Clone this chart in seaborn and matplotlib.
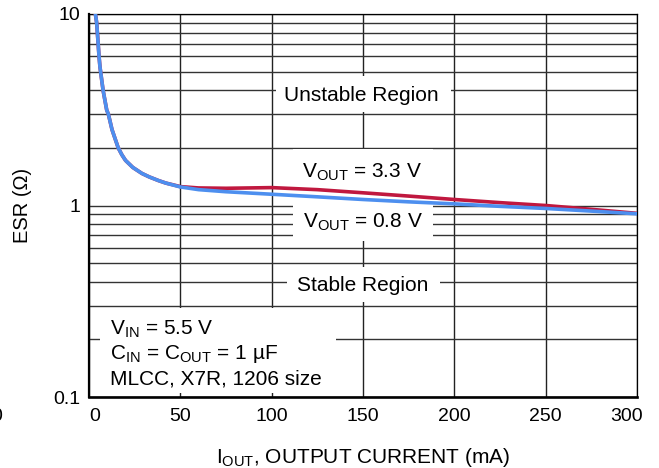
import matplotlib
matplotlib.use("Agg")
import matplotlib.pyplot as plt
from matplotlib.patches import Rectangle
from matplotlib.ticker import LogLocator, NullFormatter, FixedLocator, FixedFormatter
import matplotlib.transforms as mtransforms
import seaborn as sns
import pandas as pd

# ---- data ----
iout_ma = [3.5, 4.2, 5.5, 6.0, 7.7, 9.7, 10.6, 12.6, 16, 18, 20, 24, 29, 33, 38, 42, 50,
           60, 75, 100, 125, 150, 175, 200, 225, 250, 275, 300]
esr_vout_08 = [10.0, 9.0, 6.0, 5.3, 4.0, 3.15, 3.0, 2.49, 2.0, 1.84, 1.72, 1.58, 1.47, 1.41, 1.35, 1.31, 1.25,
               1.21, 1.18, 1.145, 1.11, 1.075, 1.045, 1.02, 0.99, 0.965, 0.935, 0.905]
esr_vout_33 = [10.0, 9.0, 6.0, 5.3, 4.0, 3.15, 3.0, 2.49, 2.0, 1.84, 1.72, 1.58, 1.47, 1.41, 1.35, 1.31, 1.255,
               1.235, 1.23, 1.24, 1.21, 1.165, 1.12, 1.075, 1.035, 1.0, 0.955, 0.91]

x_ticks = [0, 50, 100, 150, 200, 250, 300]
x_tick_labels = ["0", "50", "100", "150", "200", "250", "300"]
y_ticks = [0.1, 1, 10]
y_tick_labels = ["0.1", "1", "10"]

sns.set_theme(style="white")
plt.rcParams["font.family"] = ["Liberation Sans", "DejaVu Sans"]
plt.rcParams["mathtext.fontset"] = "custom"
plt.rcParams["mathtext.rm"] = "Liberation Sans"
plt.rcParams["mathtext.it"] = "Liberation Sans:italic"
plt.rcParams["mathtext.bf"] = "Liberation Sans:bold"

fig = plt.figure(figsize=(6.59, 4.68), dpi=100)
ax = fig.add_axes([89 / 659, 1 - 397 / 468, 548 / 659, 383 / 468])

df = pd.DataFrame({"I": iout_ma, "v08": esr_vout_08, "v33": esr_vout_33})
sns.lineplot(data=df, x="I", y="v33", ax=ax, color="#C0183F", lw=2.6, zorder=3, sort=False)
sns.lineplot(data=df, x="I", y="v08", ax=ax, color="#4D8FEF", lw=2.6, zorder=3.1, sort=False)
for ln in ax.lines:
    ln.set_solid_joinstyle("round")

ax.set_yscale("log")
ax.set_xlim(0, 300)
ax.set_ylim(0.1, 10)
ax.xaxis.set_major_locator(FixedLocator(x_ticks))
ax.xaxis.set_major_formatter(FixedFormatter(x_tick_labels))
ax.yaxis.set_major_locator(FixedLocator(y_ticks))
ax.yaxis.set_major_formatter(FixedFormatter(y_tick_labels))
ax.yaxis.set_minor_locator(LogLocator(base=10, subs=range(2, 10)))
ax.yaxis.set_minor_formatter(NullFormatter())

ax.set_axisbelow(True)
ax.grid(which="major", axis="x", color="#222222", lw=1.0)
ax.grid(which="both", axis="y", color="#333333", lw=1.0)
ax.tick_params(axis="both", which="both", length=0, labelsize=14, colors="black")
ax.tick_params(axis="x", pad=8)
ax.tick_params(axis="y", pad=6)

for side in ["top", "right"]:
    ax.spines[side].set_color("black")
    ax.spines[side].set_linewidth(0.9)
ax.spines["left"].set_color("black")
ax.spines["left"].set_linewidth(1.6)
ax.spines["bottom"].set_color("black")
ax.spines["bottom"].set_linewidth(1.9)

ax.set_xlabel(r"$\mathrm{I_{OUT}}$, OUTPUT CURRENT (mA)", fontsize=15, color="black")
ax.set_ylabel("ESR (Ω)", fontsize=14.5, color="black")
ax.xaxis.set_label_coords(0.5, -0.128)
ax.xaxis.label.set_va("top")
ax.yaxis.set_label_coords(-0.104, 0.5)

# first and last x tick labels shifted inward as in the reference
fig.canvas.draw()
xlabels = ax.get_xticklabels()
xlabels[0].set_ha("left")
xlabels[-1].set_ha("right")
xlabels[-1].set_transform(xlabels[-1].get_transform() +
                          mtransforms.ScaledTranslation(6 / 100, 0, fig.dpi_scale_trans))

# white masks behind annotation texts (grid interrupted)
masks = [
    (102.4, 198.2, 3.06, 4.72),
    (111.7, 188.4, 1.0, 1.98),
    (111.7, 188.4, 0.65, 1.04),
    (108.4, 192.2, 0.315, 0.48),
    (6.0, 135.2, 0.1055, 0.293),
]
for x0, x1, y0, y1 in masks:
    ax.add_patch(Rectangle((x0, y0), x1 - x0, y1 - y0, facecolor="white",
                           edgecolor="none", zorder=1.5))

tkw = dict(fontsize=15, color="black", zorder=4)
ax.text(149.2, 3.51, "Unstable Region", ha="center", va="baseline", **tkw)
ax.text(149.4, 1.395, r"$\mathrm{V_{OUT}}$ = 3.3 V", ha="center", va="baseline", **tkw)
ax.text(150.1, 0.765, r"$\mathrm{V_{OUT}}$ = 0.8 V", ha="center", va="baseline", **tkw)
ax.text(149.7, 0.357, "Stable Region", ha="center", va="baseline", **tkw)
ax.text(11.5, 0.212, r"$\mathrm{V_{IN}}$ = 5.5 V", ha="left", va="baseline", **tkw)
ax.text(11.5, 0.157, r"$\mathrm{C_{IN}}$ = $\mathrm{C_{OUT}}$ = 1 µF", ha="left", va="baseline", **tkw)
ax.text(11.5, 0.1162, "MLCC, X7R, 1206 size", ha="left", va="baseline", **tkw)

# clipped glyph at the far left edge of the reference
fig.text(-0.0045, 0.111, "0", fontsize=14, ha="center", va="center", color="black")

fig.savefig("out.png", dpi=100)
